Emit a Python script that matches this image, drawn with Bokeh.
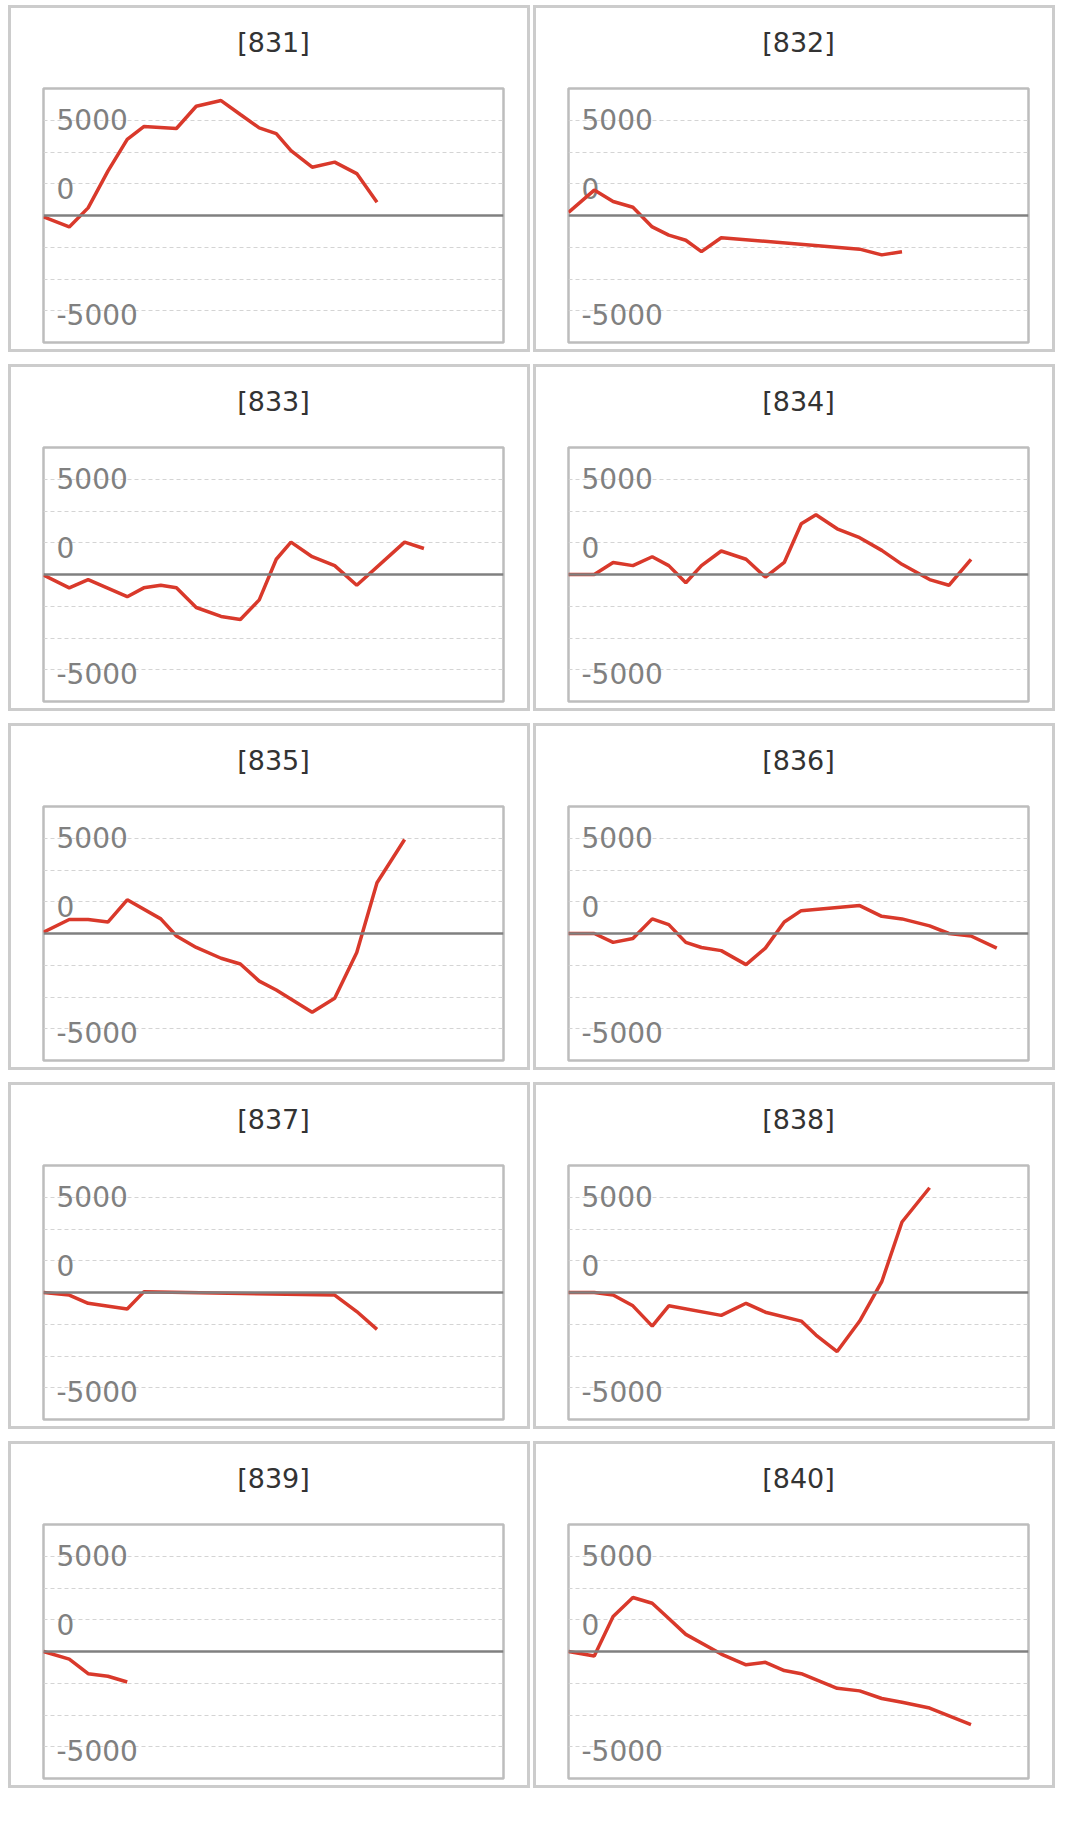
from bokeh.plotting import figure
from bokeh.layouts import row, column
from bokeh.models import Range1d, Span, Grid, FixedTicker, Title
from bokeh.embed import file_html
from bokeh.resources import INLINE
from bokeh.core.properties import value

# ---------------- data ----------------
titles = ["[831]", "[832]", "[833]", "[834]", "[835]",
          "[836]", "[837]", "[838]", "[839]", "[840]"]

# shared x positions (day positions across the period, 0..100)
x_days = [0, 5.6, 9.7, 14.0, 18.2, 21.8, 25.5, 28.9, 33.2, 38.6, 42.8,
          46.9, 50.6, 53.8, 58.4, 63.3, 68.1, 72.5, 78.5, 82.7, 87.5, 93.1]

N = None
s831 = [-100, -900, 600, 3500, 6000, 7000, N, 6850, 8600, 9050, 7950,
        6900, 6450, 5100, 3800, 4200, 3300, 1050]
s832 = [250, 2000, 1100, 650, -900, -1550, -1950, -2850, -1750, N, N,
        N, N, N, N, -2650, -3100, -2850]
s833 = [-50, -1050, -400, N, -1750, -1050, -850, -1050, -2600, -3300, -3550,
        -2000, 1200, 2550, 1400, 700, -850, N, 2550, 2050]
s834 = [0, 0, 950, 700, 1400, 700, -650, 700, 1850, 1200, -200,
        950, 4000, 4700, 3600, 2900, 1900, 800, -400, -850, 1200]
s835 = [100, 1100, 1100, 900, 2650, N, 1150, -200, -1100, -1950, -2400,
        -3750, -4450, N, -6200, -5100, -1500, 4000, 7400]
s836 = [0, 0, -700, -400, 1150, 700, -700, -1100, -1350, -2450, -1150,
        900, 1800, N, N, 2200, 1350, 1150, 600, 0, -200, -1150]
s837 = [0, -200, -850, N, -1300, 50, N, N, N, N, N,
        N, N, N, N, -200, -1500, -2900]
s838 = [0, 0, -200, -1050, -2650, -1050, N, N, -1800, -850, -1550,
        N, -2250, -3350, -4650, -2250, 850, 5550, 8250]
s839 = [0, -600, -1750, -1950, -2400]
s840 = [0, -350, 2750, 4250, 3800, 2600, 1350, N, -200, -1050, -850,
        -1500, -1750, N, -2900, -3100, -3700, -4000, -4450, N, -5750]

series = [s831, s832, s833, s834, s835, s836, s837, s838, s839, s840]

y_label_text = ["5000", "0", "-5000"]

# ---------------- layout / style constants ----------------
X_START, X_END = 0, 100
Y_START, Y_END = -10000, 10000
GRID_TICKS = [-7500, -5000, -2500, 2500, 5000, 7500]
LABEL_BASELINES = [7580, 2140, -7830]
LINE_COLOR = "#d9392b"

figs = []
for title, vals in zip(titles, series):
    xs = [x for x, v in zip(x_days, vals) if v is not None]
    ys = [v for v in vals if v is not None]
    p = figure(width=522, height=347,
               x_range=Range1d(X_START, X_END), y_range=Range1d(Y_START, Y_END),
               x_axis_type=None, y_axis_type=None,
               toolbar_location=None, output_backend="svg",
               min_border_left=32, min_border_right=30,
               min_border_top=80, min_border_bottom=13,
               title=title)
    p.styles = {"border": "3px solid #cccccc"}
    p.title.align = "center"
    p.title.text_font = "DejaVu Sans"
    p.title.text_font_size = "27px"
    p.title.text_font_style = "normal"
    p.title.text_color = "#333333"
    p.title.standoff = 0
    # small spacer between the title and the plot frame
    p.add_layout(Title(text=" ", text_font_size="2px", standoff=27), "above")
    p.outline_line_color = "#bdbdbd"
    p.outline_line_width = 2.5
    p.background_fill_color = "white"
    p.border_fill_color = "white"

    grid = Grid(dimension=1, ticker=FixedTicker(ticks=GRID_TICKS),
                grid_line_color="#d4d4d4", grid_line_width=1,
                grid_line_dash="4 3")
    p.add_layout(grid)

    p.add_layout(Span(location=0, dimension="width",
                      line_color="#808080", line_width=2.5))

    p.text(x=[X_START] * 3, y=LABEL_BASELINES, text=y_label_text,
           x_offset=13, text_font=value("DejaVu Sans"),
           text_font_size="28px", text_color="#808080",
           text_baseline="alphabetic", text_align="left")

    p.line(xs, ys, line_color=LINE_COLOR, line_width=3.5)
    figs.append(p)

layout = column(*[row(figs[i], figs[i + 1], spacing=3) for i in range(0, 10, 2)],
                spacing=12, margin=(5, 0, 0, 8))

open("out.html", "w").write(file_html(layout, INLINE))
